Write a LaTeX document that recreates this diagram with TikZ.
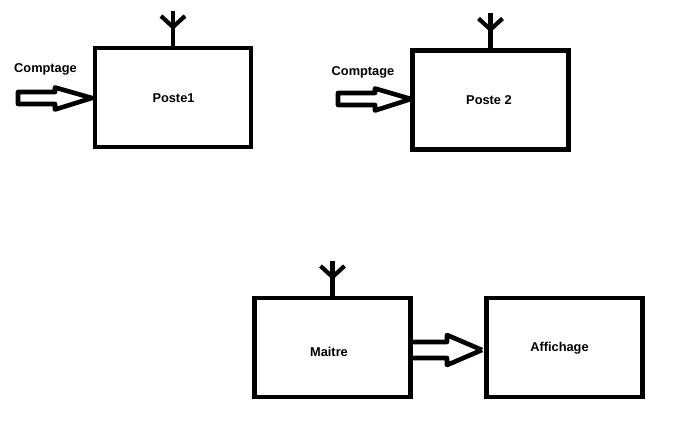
\documentclass[tikz,border=0pt]{standalone}
\usepackage{fontspec}
\setmainfont{Liberation Sans}
\usetikzlibrary{calc}
\tikzset{
  x=1pt,y=-1pt,
  boxnode/.style={draw=black,line width=4.2pt,minimum width=156pt,minimum height=99pt,inner sep=0pt,outer sep=0pt,shape=rectangle},
  lbl/.style={font=\bfseries\fontsize{12.8}{15}\selectfont,inner sep=0pt,text=black},
  hollow/.style={draw=black,line width=4.6pt,line join=round},
  aerial/.style={draw=black,line width=4.2pt,line cap=butt}
}
\begin{document}
\begin{tikzpicture}
\useasboundingbox (0,0) rectangle (677,422);
\fill[white] (0,0) rectangle (677,422);
\node[boxnode] (p1) at (173,97.5) {};
\node[boxnode] (p2) at (490.5,100) {};
\node[boxnode] (m) at (332.5,347.5) {};
\node[boxnode] (af) at (564.5,347.5) {};
\node[lbl] (t1) at (173.5,98) {Poste1};
\node[lbl] (t2) at (489,100) {Poste 2};
\node[lbl] (t3) at (329,351.5) {Maitre};
\node[lbl] (t4) at (559.5,348.5) {Affichage};
\node[lbl] (c1) at (45.5,69) {Comptage};
\node[lbl] (c2) at (363,72) {Comptage};
\draw[aerial] (p1.north) -- ++(0,-37);
\draw[aerial] (p1.north) ++(-12,-32) -- ++(12,11) -- ++(12,-11);
\draw[aerial] (p2.north) -- ++(0,-37);
\draw[aerial] (p2.north) ++(-12,-32) -- ++(12,11) -- ++(12,-11);
\draw[aerial] (m.north) -- ++(0,-37);
\draw[aerial] (m.north) ++(-12,-32) -- ++(12,11) -- ++(12,-11);
% hollow arrows
\coordinate (a1) at (p1.west);
\draw[hollow] (a1) ++(-3,0.5) -- ++(-37,-10.5) -- ++(0,4.5) -- ++(-37,0) -- ++(0,12) -- ++(37,0) -- ++(0,5.5) -- cycle;
\coordinate (a2) at (p2.west);
\draw[hollow] (a2) ++(-1.5,-1) -- ++(-36,-10.5) -- ++(0,4.5) -- ++(-37,0) -- ++(0,12) -- ++(37,0) -- ++(0,5.5) -- cycle;
\coordinate (a3) at ($(af.west)+(-4.5,2.5)$);
\draw[hollow] (a3) -- ++(-35,-15) -- ++(0,7) -- ++(-35,0);
\draw[hollow] (a3) -- ++(-35,15) -- ++(0,-7) -- ++(-35,0);
\end{tikzpicture}
\end{document}
